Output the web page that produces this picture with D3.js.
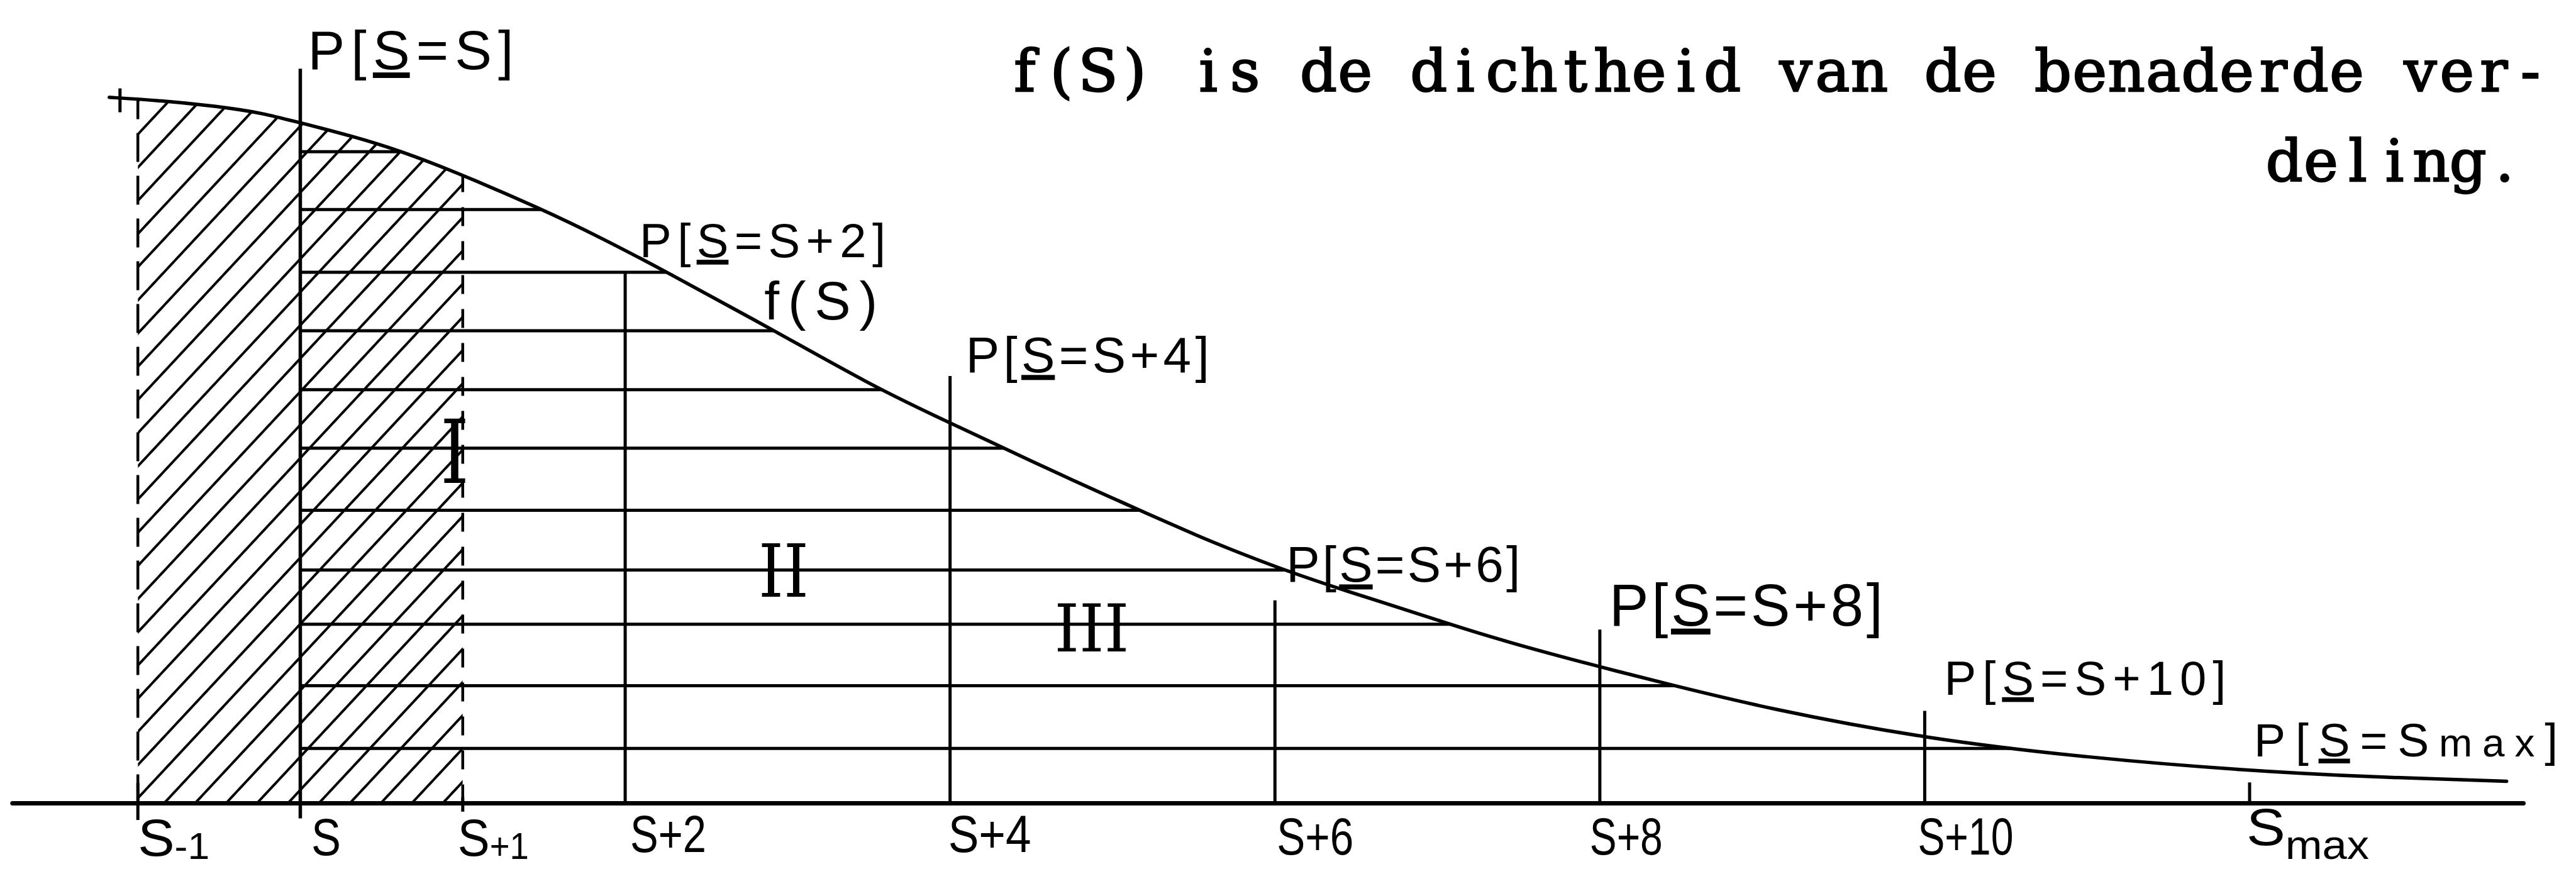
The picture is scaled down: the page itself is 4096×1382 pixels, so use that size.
<!DOCTYPE html>
<html>
<head>
<meta charset="utf-8">
<script src="https://cdn.jsdelivr.net/npm/d3@7"></script>
<style>
  html, body { margin: 0; padding: 0; background: #fff; }
  svg { display: block; }
</style>
</head>
<body>
<svg id="chart" width="4096" height="1382"></svg>
<script>
// ---- data -------------------------------------------------------------
// outcomes on the horizontal axis, as offsets from S
const tickValues = [-1, 0, 1, 2, 4, 6, 8, 10, 12];
const tickMain   = ["S", "S", "S", "S+2", "S+4", "S+6", "S+8", "S+10", "S"];
const tickSub    = ["-1", "", "+1", "", "", "", "", "", "max"];

// density f(S) of the approximating distribution (offset, height in grid units)
const curveK = [-1.176, -0.877, -0.550, -0.360, -0.251, -0.065, 0.336, 0.607, 0.930,
                1.502, 1.856, 2.224, 2.905, 3.518, 3.917, 4.293, 4.521, 4.767, 4.963,
                5.192, 5.551, 5.715, 6.042, 6.480, 6.708, 7.033, 7.432, 7.966, 8.386,
                9.042, 10.010, 11.017, 11.970, 12.734, 13.582];
const curveV = [11.83, 11.78, 11.69, 11.62, 11.57, 11.45, 11.17, 10.94, 10.61,
                9.94, 9.47, 8.95, 7.94, 7.00, 6.48, 6.00, 5.71, 5.40, 5.16,
                4.88, 4.45, 4.27, 3.92, 3.52, 3.33, 3.04, 2.70, 2.31, 2.02,
                1.58, 1.08, 0.76, 0.55, 0.44, 0.37];

// horizontal strips, drawn from S out to the density
const stripLevels = [10.92, 9.95, 8.90, 7.92, 6.93, 5.95, 4.91, 3.91, 3.00, 1.97, 0.92];

// stems for P[S = S+k]
const stemK   = [2, 4, 6, 8, 10];
const stemTop = [8.90, 7.16, 3.40, 2.91, 1.55];
const sLineTop = 12.31;
const sMaxTickTop = 0.35;

// hatched intervals [S-1, S] and [S, S+1]
const hatchFrom = [-1, 0];
const hatchTo   = [0, 1];

// probability labels P[S = ...]
const probK   = [0, 2, 4, 6, 8, 10, 12];
const probRhs = ["S", "S+2", "S+4", "S+6", "S+8", "S+10", "S"];
const probSub = ["", "", "", "", "", "", "max"];

// region numerals
const regionNames = ["I", "II", "III"];

// typed caption
const captionLines = ["f(S) is de dichtheid van de benaderde ver-", "deling."];

// ---- layout -----------------------------------------------------------
const W = 4096, H = 1382;
const x = d3.scaleLinear().domain([0, 12]).range([477.5, 3577]);
const y = d3.scaleLinear().domain([0, 12]).range([1277.5, 138.7]);
const axisFrom = -1.772, axisTo = 13.686;

const INK = "#000";
const handFont = "'Liberation Sans', Arial, sans-serif";
const typeFont = "'DejaVu Serif', 'Liberation Serif', serif";

// label placement: offset from stem, baseline height, width, size
const probLayout = [
  { dx: 12, v: 12.30, w: 327, fs: 88 },
  { dx: 23, v: 9.15,  w: 391, fs: 76 },
  { dx: 25, v: 7.22,  w: 387, fs: 80 },
  { dx: 18, v: 3.71,  w: 372, fs: 80 },
  { dx: 15, v: 2.98,  w: 435, fs: 94 },
  { dx: 31, v: 1.82,  w: 448, fs: 76 },
  { dx: 7,  v: 0.79,  w: 483, fs: 75 }
];
const tickLayout = [
  { dx: 0,    base: 1361, w: 114 },
  { dx: 17.5, base: 1360, w: 47 },
  { dx: -8,   base: 1361, w: 113 },
  { dx: 8,    base: 1355, w: 121 },
  { dx: -3,   base: 1355, w: 132 },
  { dx: 3,    base: 1359, w: 122 },
  { dx: -16,  base: 1359, w: 116 },
  { dx: -11,  base: 1359, w: 152 },
  { dx: -5,   base: 1344, w: 195 }
];
const regionLayout = [
  { k: 0.95,  v: 5.37, fs: 90, h: 103, w: 46 },
  { k: 2.975, v: 3.46, fs: 80, h: 84,  w: 80 },
  { k: 4.872, v: 2.54, fs: 76, h: 77,  w: 119 }
];
const caption = { x: [1600, 3603], base: [145, 288], pitch: 58.4, fs: 92 };

const svg = d3.select("#chart").attr("viewBox", `0 0 ${W} ${H}`);
svg.append("rect").attr("width", W).attr("height", H).attr("fill", "#fff");

const defs = svg.append("defs");
const pat = defs.append("pattern")
  .attr("id", "hatch")
  .attr("patternUnits", "userSpaceOnUse")
  .attr("width", 36).attr("height", 36)
  .attr("patternTransform", "rotate(43)");
pat.append("line")
  .attr("x1", 18).attr("y1", -2).attr("x2", 18).attr("y2", 38)
  .attr("stroke", INK).attr("stroke-width", 4);

const g = svg.append("g");

// density curve (drawn first so it can be sampled)
const curvePts = curveK.map((k, i) => [x(k), y(curveV[i])]);
const curvePath = g.append("path")
  .attr("d", d3.line().curve(d3.curveBasis)(curvePts))
  .attr("fill", "none").attr("stroke", INK)
  .attr("stroke-width", 5.5).attr("stroke-linecap", "round");

const node = curvePath.node();
const total = node.getTotalLength();
const samples = d3.range(0, 1201).map(i => {
  const p = node.getPointAtLength(total * i / 1200);
  return [p.x, p.y];
});
function yAtX(px) {
  for (let i = 0; i < samples.length - 1; i++) {
    const a = samples[i], b = samples[i + 1];
    if (px >= a[0] && px <= b[0]) {
      const t = b[0] === a[0] ? 0 : (px - a[0]) / (b[0] - a[0]);
      return a[1] + t * (b[1] - a[1]);
    }
  }
  return samples[samples.length - 1][1];
}
function xAtY(py) {
  for (let i = 0; i < samples.length - 1; i++) {
    const a = samples[i], b = samples[i + 1];
    if (py >= a[1] && py <= b[1]) {
      const t = b[1] === a[1] ? 0 : (py - a[1]) / (b[1] - a[1]);
      return a[0] + t * (b[0] - a[0]);
    }
  }
  return samples[samples.length - 1][0];
}

// hatched areas under the density
const hatchLayer = g.insert("g", ":first-child");
hatchFrom.forEach((ka, i) => {
  const xa = x(ka), xb = x(hatchTo[i]);
  const pts = [[xa, y(0)], [xa, yAtX(xa)]];
  samples.forEach(p => { if (p[0] > xa && p[0] < xb) pts.push(p); });
  pts.push([xb, yAtX(xb)], [xb, y(0)]);
  const id = "clipHatch" + i;
  defs.append("clipPath").attr("id", id)
    .append("path").attr("d", d3.line()(pts) + "Z");
  hatchLayer.append("rect")
    .attr("x", xa).attr("y", 0).attr("width", xb - xa).attr("height", H)
    .attr("fill", "url(#hatch)")
    .attr("clip-path", `url(#${id})`);
});

// horizontal strips from S to the curve
g.append("g").selectAll("line").data(stripLevels).join("line")
  .attr("x1", x(0)).attr("x2", d => xAtY(y(d)))
  .attr("y1", d => y(d)).attr("y2", d => y(d))
  .attr("stroke", INK).attr("stroke-width", 5);

// dashed borders at S-1 and S+1
[[-1, "46 22"], [1, "30 24"]].forEach(([k, dash]) => {
  g.append("line")
    .attr("x1", x(k)).attr("x2", x(k))
    .attr("y1", y(0)).attr("y2", yAtX(x(k)))
    .attr("stroke", INK).attr("stroke-width", 4.5)
    .attr("stroke-dasharray", dash);
});

// vertical at S
g.append("line")
  .attr("x1", x(0)).attr("x2", x(0))
  .attr("y1", y(0) + 24).attr("y2", y(sLineTop))
  .attr("stroke", INK).attr("stroke-width", 5.5);

// stems
g.append("g").selectAll("line").data(stemK).join("line")
  .attr("x1", d => x(d)).attr("x2", d => x(d))
  .attr("y1", y(0)).attr("y2", (d, i) => y(stemTop[i]))
  .attr("stroke", INK).attr("stroke-width", 5);

// small marks: start of the curve, S_max, S-1 and S+1 ticks
g.append("line")
  .attr("x1", x(-1.11)).attr("x2", x(-1.11))
  .attr("y1", y(11.98)).attr("y2", y(11.58))
  .attr("stroke", INK).attr("stroke-width", 5);
g.append("line")
  .attr("x1", x(12)).attr("x2", x(12))
  .attr("y1", y(0)).attr("y2", y(sMaxTickTop))
  .attr("stroke", INK).attr("stroke-width", 5);
g.append("line")
  .attr("x1", x(-1)).attr("x2", x(-1))
  .attr("y1", y(0.34)).attr("y2", y(-0.28))
  .attr("stroke", INK).attr("stroke-width", 5);
g.append("line")
  .attr("x1", x(1)).attr("x2", x(1))
  .attr("y1", y(0.1)).attr("y2", y(-0.14))
  .attr("stroke", INK).attr("stroke-width", 5);

// horizontal axis
g.append("line")
  .attr("x1", x(axisFrom)).attr("x2", x(axisTo))
  .attr("y1", y(0)).attr("y2", y(0))
  .attr("stroke", INK).attr("stroke-width", 7).attr("stroke-linecap", "round");

// curve on top
curvePath.raise();

// axis labels
const tickG = g.append("g").attr("font-family", handFont).attr("fill", INK);
tickValues.forEach((k, i) => {
  const L = tickLayout[i];
  const t = tickG.append("text")
    .attr("x", x(k) + L.dx).attr("y", L.base)
    .attr("font-size", 84)
    .attr("textLength", L.w).attr("lengthAdjust", "spacingAndGlyphs");
  t.append("tspan").text(tickMain[i]);
  if (tickSub[i]) {
    const isMax = tickSub[i] === "max";
    t.append("tspan")
      .attr("dy", isMax ? 22 : 5)
      .attr("font-size", isMax ? 64 : 60)
      .text(tickSub[i]);
  }
});

// probability labels
const probG = g.append("g").attr("font-family", handFont).attr("fill", INK);
probK.forEach((k, i) => {
  const L = probLayout[i];
  const t = probG.append("text")
    .attr("x", x(k) + L.dx).attr("y", y(L.v))
    .attr("font-size", L.fs)
    .attr("textLength", L.w).attr("lengthAdjust", "spacing");
  t.append("tspan").text("P[");
  t.append("tspan").attr("text-decoration", "underline").text("S");
  t.append("tspan").text("=" + probRhs[i]);
  if (probSub[i]) t.append("tspan").attr("font-size", L.fs * 0.85).text(probSub[i]);
  t.append("tspan").text("]");
});

// density label on the curve
probG.append("text")
  .attr("x", x(2.856)).attr("y", y(8.11))
  .attr("font-size", 86)
  .attr("textLength", 180).attr("lengthAdjust", "spacing")
  .text("f(S)");

// region numerals (serif capitals, stretched upright)
const regG = g.append("g").attr("font-family", "'DejaVu Serif', serif")
  .attr("fill", INK);
regionNames.forEach((name, i) => {
  const L = regionLayout[i];
  const sy = L.h / (0.729 * L.fs);
  regG.append("text")
    .attr("transform", `translate(${x(L.k) - L.w / 2},${y(L.v)}) scale(1,${sy})`)
    .attr("x", 0).attr("y", 0)
    .attr("font-size", L.fs)
    .attr("textLength", L.w).attr("lengthAdjust", "spacingAndGlyphs")
    .text(name);
});

// typed caption, one character per typewriter cell
const capG = g.append("g").attr("font-family", typeFont)
  .attr("fill", INK).attr("stroke", INK).attr("stroke-width", 2.5)
  .attr("font-size", caption.fs)
  .attr("text-anchor", "middle");
captionLines.forEach((line, li) => {
  const xs = Array.from(line).map((c, j) => (caption.x[li] + caption.pitch * (j + 0.5)).toFixed(1));
  capG.append("text")
    .attr("x", xs.join(" "))
    .attr("y", caption.base[li])
    .attr("xml:space", "preserve")
    .style("white-space", "pre")
    .text(line);
});
</script>
</body>
</html>
